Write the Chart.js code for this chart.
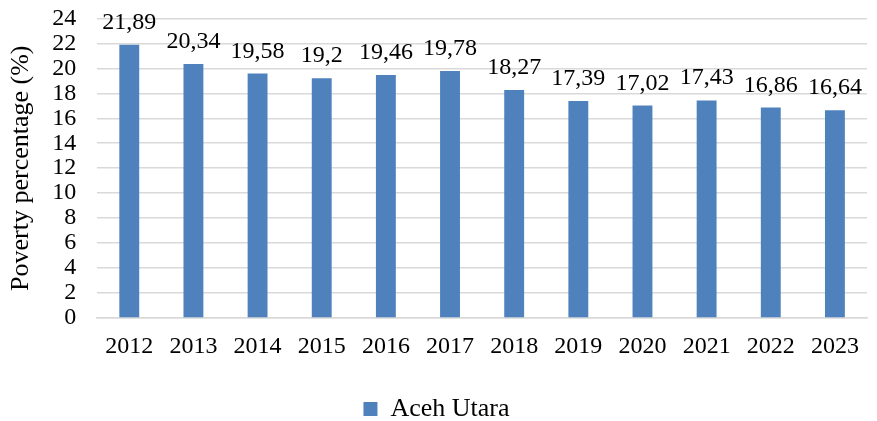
<!DOCTYPE html>
<html>
<head>
<meta charset="utf-8">
<script src="https://cdn.jsdelivr.net/npm/chart.js@4"></script>
<style>
  html, body { margin: 0; padding: 0; background: #fff; }
  #wrap { width: 877px; height: 421px; }
</style>
</head>
<body>
<div id="wrap"><canvas id="chart" width="877" height="421"></canvas></div>
<script>
const years = ['2012', '2013', '2014', '2015', '2016', '2017', '2018', '2019', '2020', '2021', '2022', '2023'];
const poverty = [21.89, 20.34, 19.58, 19.2, 19.46, 19.78, 18.27, 17.39, 17.02, 17.43, 16.86, 16.64];
const seriesName = 'Aceh Utara';

const FONT = 'Liberation Serif';

// draw value labels above each bar, with comma decimals
const valueLabels = {
    id: 'valueLabels',
    afterDatasetsDraw(chart) {
        const ctx = chart.ctx;
        const meta = chart.getDatasetMeta(0);
        ctx.save();
        ctx.font = '24px "' + FONT + '"';
        ctx.fillStyle = '#000';
        ctx.textAlign = 'center';
        ctx.textBaseline = 'alphabetic';
        meta.data.forEach((bar, i) => {
            const txt = String(poverty[i]).replace('.', ',');
            ctx.fillText(txt, bar.x, bar.y - 16);
        });
        ctx.restore();
    }
};

new Chart(document.getElementById('chart'), {
    type: 'bar',
    data: {
        labels: years,
        datasets: [{
            label: seriesName,
            data: poverty,
            backgroundColor: '#4F81BD',
            borderWidth: 0,
            categoryPercentage: 1,
            barPercentage: 0.31
        }]
    },
    options: {
        responsive: false,
        animation: false,
        layout: { padding: { left: 6, right: 10, top: 0, bottom: -11 } },
        plugins: {
            legend: {
                position: 'bottom',
                labels: {
                    font: { family: FONT, size: 26 },
                    color: '#000',
                    boxWidth: 14,
                    boxHeight: 14,
                    padding: 0
                }
            },
            tooltip: { enabled: false }
        },
        scales: {
            x: {
                grid: { display: false },
                border: { color: '#d9d9d9', width: 1.5 },
                ticks: {
                    font: { family: FONT, size: 24 },
                    color: '#000',
                    maxRotation: 0,
                    autoSkip: false,
                    padding: 6
                },
                afterFit(scale) { scale.height = 78; }
            },
            y: {
                min: 0,
                max: 24,
                ticks: {
                    stepSize: 2,
                    autoSkip: false,
                    font: { family: FONT, size: 24 },
                    color: '#000',
                    padding: 4
                },
                // invisible tick marks just push the labels away from the plot
                grid: { color: '#d9d9d9', lineWidth: 1.5, drawTicks: true, tickLength: 17, tickColor: 'rgba(0,0,0,0)' },
                border: { display: false },
                title: {
                    display: true,
                    text: 'Poverty percentage (%)',
                    font: { family: FONT, size: 26 },
                    color: '#000',
                    padding: { top: 0, bottom: 11 }
                }
            }
        }
    },
    plugins: [valueLabels]
});
</script>
</body>
</html>
